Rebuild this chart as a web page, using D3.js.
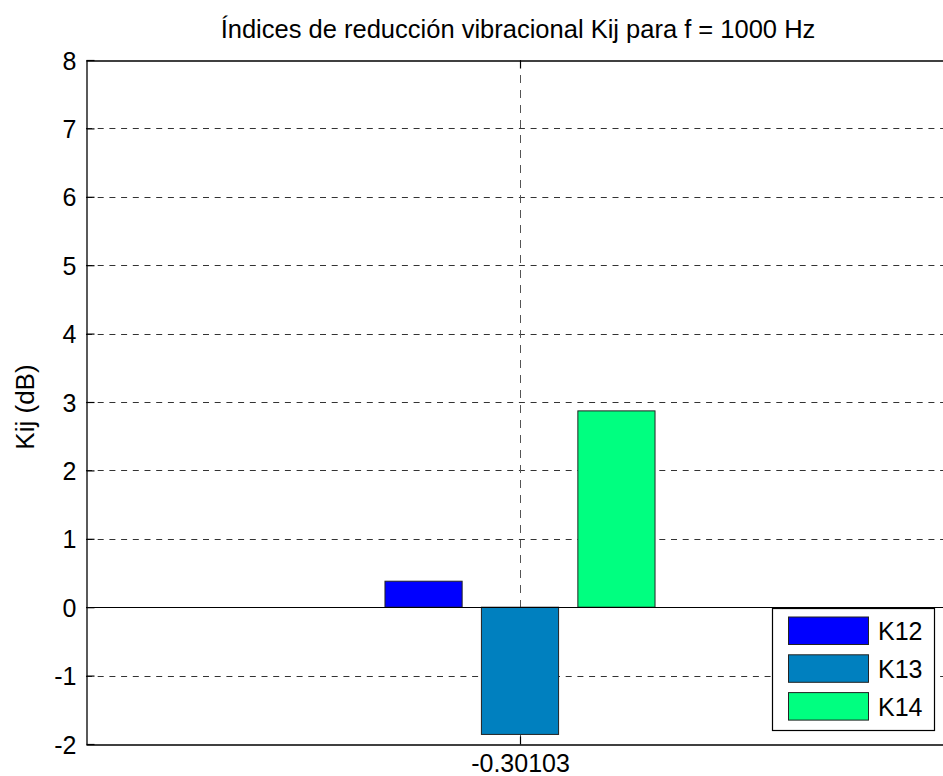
<!DOCTYPE html>
<html>
<head>
<meta charset="utf-8">
<script src="https://cdn.jsdelivr.net/npm/d3@7"></script>
<style>
  html, body { margin: 0; padding: 0; background: #ffffff; }
  svg { display: block; }
  text { font-family: Arial, "Liberation Sans", Helvetica, sans-serif; fill: #000; }
</style>
</head>
<body>
<svg id="chart" width="943" height="776"></svg>
<script>
// Single group on the x axis (log10(0.5)) with three coupling indices
const categories = [-0.30103];
const categoryLabels = ["-0.30103"];
const seriesNames = ["K12", "K13", "K14"];
const K12 = [0.38];
const K13 = [-1.86];
const K14 = [2.87];
const seriesColors = ["#0000ff", "#0080bf", "#00ff80"];
const yTicks = [-2, -1, 0, 1, 2, 3, 4, 5, 6, 7, 8];
const yTickLabels = ["-2", "-1", "0", "1", "2", "3", "4", "5", "6", "7", "8"];
const titleText = "Índices de reducción vibracional Kij para f = 1000 Hz";
const yLabelText = "Kij (dB)";

const series = [K12, K13, K14];

const svg = d3.select("#chart");
const plot = { left: 86, right: 954, top: 60, bottom: 744 };

const x = d3.scaleLinear()
  .domain([categories[0] - 1, categories[0] + 1])
  .range([plot.left, plot.right]);
const y = d3.scaleLinear()
  .domain([-2, 8])
  .range([plot.bottom, plot.top]);

// grouped bar geometry (3 bars per group)
const groupWidth = Math.min(0.8, series.length / (series.length + 1.5));
const slot = groupWidth / series.length;
const barWidth = slot * 0.8;
const offset = i => (i - (series.length - 1) / 2) * slot;

// dashed grid
const grid = svg.append("g").attr("class", "grid");
grid.selectAll("line.h")
  .data(yTicks.filter(t => t !== -2 && t !== 8 && t !== 0))
  .join("line")
  .attr("class", "h")
  .attr("x1", plot.left).attr("x2", plot.right)
  .attr("y1", d => Math.round(y(d)) + 0.5).attr("y2", d => Math.round(y(d)) + 0.5)
  .attr("stroke", "#333").attr("stroke-width", 1)
  .attr("stroke-dasharray", "6,5.7");
grid.selectAll("line.v")
  .data(categories)
  .join("line")
  .attr("class", "v")
  .attr("x1", d => Math.round(x(d)) + 0.5).attr("x2", d => Math.round(x(d)) + 0.5)
  .attr("y1", plot.top).attr("y2", plot.bottom)
  .attr("stroke", "#555").attr("stroke-width", 1)
  .attr("stroke-dasharray", "8,7");

// bars
const bars = svg.append("g").attr("class", "bars");
series.forEach((vals, i) => {
  bars.selectAll(null)
    .data(vals.map((v, j) => ({ v, c: categories[j] })))
    .join("rect")
    .attr("x", d => x(d.c + offset(i) - barWidth / 2))
    .attr("width", d => x(d.c + barWidth) - x(d.c))
    .attr("y", d => y(Math.max(0, d.v)))
    .attr("height", d => Math.abs(y(d.v) - y(0)))
    .attr("fill", seriesColors[i])
    .attr("stroke", "#222")
    .attr("stroke-width", 1);
});

// baseline at zero
svg.append("line")
  .attr("x1", plot.left).attr("x2", plot.right)
  .attr("y1", Math.round(y(0)) + 0.5).attr("y2", Math.round(y(0)) + 0.5)
  .attr("stroke", "#000").attr("stroke-width", 1);

// axes with inward ticks
const tickLen = 8;
const yAxis = d3.axisLeft(y)
  .tickValues(yTicks)
  .tickFormat((d, i) => yTickLabels[i])
  .tickSizeInner(-tickLen).tickSizeOuter(0).tickPadding(10);
const gy = svg.append("g")
  .attr("transform", `translate(${plot.left + 0.5},0)`)
  .call(yAxis);
gy.selectAll("text").style("font-size", "25px").attr("dy", "0.36em");

const xAxis = d3.axisBottom(x)
  .tickValues(categories)
  .tickFormat((d, i) => categoryLabels[i])
  .tickSizeInner(-tickLen).tickSizeOuter(0).tickPadding(10);
const gx = svg.append("g")
  .attr("transform", `translate(0,${plot.bottom + 0.5})`)
  .call(xAxis);
gx.selectAll("text").style("font-size", "25px").attr("dy", "0.71em");

const xTop = d3.axisTop(x).tickValues(categories).tickFormat("")
  .tickSizeInner(-tickLen).tickSizeOuter(0);
svg.append("g").attr("transform", `translate(0,${plot.top + 0.5})`).call(xTop);

svg.selectAll(".domain").attr("stroke", "#000").attr("stroke-width", 1.3);
svg.selectAll(".tick line").attr("stroke", "#000").attr("stroke-width", 1.2);

// right border of axes box
svg.append("line")
  .attr("x1", plot.right).attr("x2", plot.right)
  .attr("y1", plot.top).attr("y2", plot.bottom)
  .attr("stroke", "#000");

// title and y label
svg.append("text")
  .attr("x", (plot.left + plot.right) / 2 - 2)
  .attr("y", 38)
  .attr("text-anchor", "middle")
  .style("font-size", "25.5px")
  .text(titleText);

svg.append("text")
  .attr("transform", `translate(34,${(plot.top + plot.bottom) / 2 + 5}) rotate(-90)`)
  .attr("text-anchor", "middle")
  .style("font-size", "26px")
  .text(yLabelText);

// legend
const legend = svg.append("g").attr("transform", "translate(772,608)");
legend.append("rect")
  .attr("x", 0.5).attr("y", 0.5)
  .attr("width", 162).attr("height", 122)
  .attr("fill", "#fff").attr("stroke", "#000").attr("stroke-width", 1.2);
const rowStep = 37.8;
const items = legend.selectAll("g.item")
  .data(seriesNames)
  .join("g")
  .attr("class", "item")
  .attr("transform", (d, i) => `translate(0,${9 + i * rowStep})`);
items.append("rect")
  .attr("x", 16.5).attr("y", 0)
  .attr("width", 80).attr("height", 27.5)
  .attr("fill", (d, i) => seriesColors[i])
  .attr("stroke", "#222").attr("stroke-width", 1);
items.append("text")
  .attr("x", 106).attr("y", 14)
  .attr("dy", "0.36em")
  .style("font-size", "25px")
  .text(d => d);
</script>
</body>
</html>
